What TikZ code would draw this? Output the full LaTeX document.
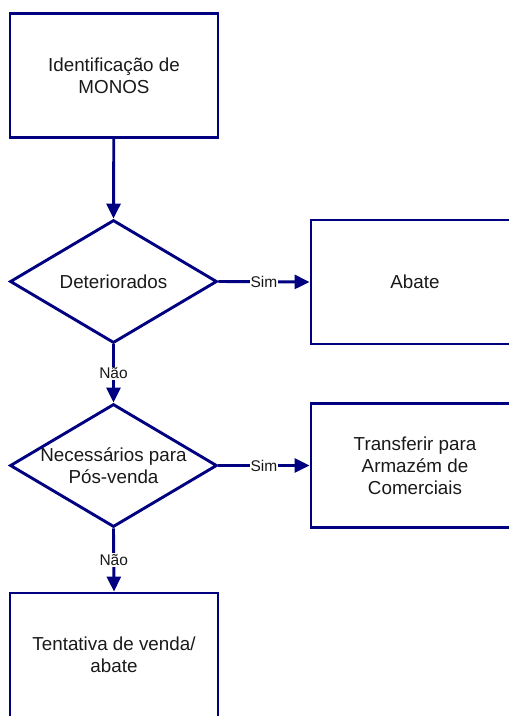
\documentclass[tikz,border=0pt]{standalone}
\usepackage{fontspec}
\setmainfont{Liberation Sans}
\usetikzlibrary{shapes.geometric,arrows.meta}
\definecolor{navy}{RGB}{0,0,128}
\begin{document}
\begin{tikzpicture}[x=1pt,y=-1pt,
  box/.style={draw=navy,line width=2.9pt,minimum width=208pt,minimum height=124pt,inner sep=0pt,align=center,font=\fontsize{18.8}{22}\selectfont,text=black!90},
  dec/.style={draw=navy,line width=2.9pt,diamond,minimum width=207pt,minimum height=123pt,inner sep=0pt},
  dtext/.style={align=center,font=\fontsize{18.8}{22}\selectfont,text=black!90},
  flow/.style={draw=navy,line width=2.9pt,-{Triangle[length=15pt,width=14pt]}},
  lbl/.style={fill=white,inner sep=1pt,font=\fontsize{15.5}{17}\selectfont,text=black!90}]
\useasboundingbox (0,0) rectangle (509,716);
\clip (0,0) rectangle (509,716);
\node[box] (ident) at (114,75.5) {Identificação de\\MONOS};
\node[dec,label={[dtext]center:Deteriorados}] (det) at (113.5,281.5) {};
\node[box] (abate) at (415,282) {Abate};
\node[dec,label={[dtext]center:{Necessários para\\Pós-venda}}] (nec) at (113.5,465.5) {};
\node[box] (transf) at (415,465.5) {Transferir para\\Armazém de\\Comerciais};
\node[box] (tent) at (114,655) {Tentativa de venda/\\abate};
\draw[flow] (ident) -- (det.north);
\draw[flow] (det.east) -- node[lbl] {Sim} (abate.west);
\draw[flow] (det.south) -- node[lbl] {Não} (nec.north);
\draw[flow] (nec.east) -- node[lbl] {Sim} (transf.west);
\draw[flow] (nec.south) -- node[lbl] {Não} (tent.north);
\end{tikzpicture}
\end{document}
